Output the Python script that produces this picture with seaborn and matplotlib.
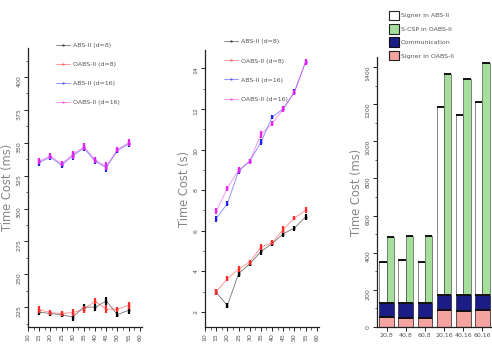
import matplotlib
matplotlib.use("Agg")
import matplotlib.pyplot as plt
import seaborn as sns
import numpy as np
import pandas as pd
from matplotlib.patches import Patch
from matplotlib.ticker import MultipleLocator

# ---------------- data ----------------
x_vals = [15, 20, 25, 30, 35, 40, 45, 50, 55]
x_ticks = [10, 15, 20, 25, 30, 35, 40, 45, 50, 55, 60]

series_names = ["ABS-II (d=8)", "OABS-II (d=8)", "ABS-II (d=16)", "OABS-II (d=16)"]
series_colors = ["#000000", "#ff2a2a", "#2222ee", "#ee22ee"]

# left panel (ms)
ms_abs8 = [221.4, 220.2, 219.4, 217.5, 225.2, 225.0, 229.8, 219.4, 222.7]
ms_oabs8 = [223.2, 221.0, 220.2, 221.0, 223.2, 229.6, 223.5, 223.5, 226.5]
ms_abs16 = [335.0, 339.0, 333.0, 340.0, 346.0, 336.0, 331.0, 344.0, 349.0]
ms_oabs16 = [336.0, 340.0, 334.0, 341.0, 347.0, 337.0, 332.0, 345.0, 350.0]
ms_err = [2.5, 2.0, 2.0, 3.0, 2.5, 2.5, 3.0, 2.0, 2.5]

# middle panel (s)
s_abs8 = [2.97, 2.31, 3.88, 4.37, 4.98, 5.36, 5.85, 6.13, 6.68]
s_oabs8 = [3.00, 3.63, 4.12, 4.45, 5.20, 5.40, 6.06, 6.63, 7.00]
s_abs16 = [6.60, 7.33, 8.93, 9.42, 10.35, 11.60, 12.00, 12.85, 14.30]
s_oabs16 = [6.95, 8.10, 8.98, 9.42, 10.74, 11.28, 12.00, 12.80, 14.33]
s_err = [0.15, 0.12, 0.15, 0.12, 0.15, 0.12, 0.15, 0.12, 0.15]

# right panel (ms)
bar_groups = ["20,8", "40,8", "60,8", "20,16", "40,16", "60,16"]
signer_abs = [350, 362, 350, 1183, 1141, 1214]
signer_oabs = [54, 48, 48, 92, 86, 94]
communication = [76, 82, 82, 80, 88, 80]
scsp_oabs = [357, 358, 360, 1192, 1161, 1248]

# ---------------- figure ----------------
sns.set_style("ticks")
plt.rcParams["font.family"] = ["DejaVu Sans"]
fig = plt.figure(figsize=(4.92, 3.47), dpi=100)

ax1 = fig.add_axes([28/492, 20/347, 114/492, 279/347])
ax2 = fig.add_axes([205/492, 20/347, 114/492, 277/347])
ax3 = fig.add_axes([377/492, 20/347, 115/492, 270/347])

tick_col = "#555555"
lab_col = "#888888"


def style_line_axis(ax):
    for s in ["top", "right"]:
        ax.spines[s].set_visible(False)
    for s in ["left", "bottom"]:
        ax.spines[s].set_linewidth(0.9)
        ax.spines[s].set_color("#222222")
    ax.tick_params(axis="both", which="major", length=3, width=0.7,
                   labelsize=4.5, colors="#222222", labelcolor=tick_col, pad=1.5)
    ax.tick_params(axis="both", which="minor", length=1.8, width=0.5, colors="#222222")
    ax.tick_params(axis="y", labelrotation=90)
    ax.tick_params(axis="x", labelrotation=90)


def draw_lines(ax, ys, err):
    for name, col, y in zip(series_names, series_colors, ys):
        df = pd.DataFrame({"x": x_vals, "y": y})
        sns.lineplot(data=df, x="x", y="y", ax=ax, color=col, lw=0.6, alpha=0.55,
                     marker="o", markersize=1.8, markeredgewidth=0, label=name)
        ax.errorbar(x_vals, y, yerr=err, fmt="none", ecolor=col, elinewidth=1.6,
                    capsize=0)
    ax.set_xlim(10, 61)
    ax.set_xticks(x_ticks)
    ax.xaxis.set_minor_locator(MultipleLocator(2.5))
    ax.set_xlabel("")


# left
draw_lines(ax1, [ms_abs8, ms_oabs8, ms_abs16, ms_oabs16], ms_err)
ax1.set_ylim(210, 422)
ax1.set_yticks([225, 250, 275, 300, 325, 350, 375, 400])
ax1.yaxis.set_minor_locator(MultipleLocator(12.5))
ax1.set_ylabel("Time Cost (ms)", fontsize=8.3, color=lab_col, labelpad=2)
style_line_axis(ax1)
ax1.legend(loc="upper left", bbox_to_anchor=(0.2, 1.04), frameon=False,
           fontsize=4.5, labelspacing=2.2, handlelength=2.2, handletextpad=0.4,
           labelcolor=tick_col)

# middle
draw_lines(ax2, [s_abs8, s_oabs8, s_abs16, s_oabs16], s_err)
ax2.set_ylim(1.26, 14.9)
ax2.set_yticks([2, 4, 6, 8, 10, 12, 14])
ax2.yaxis.set_minor_locator(MultipleLocator(1))
ax2.set_ylabel("Time Cost (s)", fontsize=8.3, color=lab_col, labelpad=2)
style_line_axis(ax2)
ax2.legend(loc="upper left", bbox_to_anchor=(0.12, 1.06), frameon=False,
           fontsize=4.5, labelspacing=2.2, handlelength=2.2, handletextpad=0.4,
           labelcolor=tick_col)

# right: stacked bars
systems = ["ABS-II", "OABS-II"]
tot_oabs = [a + b + c for a, b, c in zip(signer_oabs, communication, scsp_oabs)]
mid_oabs = [a + b for a, b in zip(signer_oabs, communication)]
nan6 = [np.nan] * len(bar_groups)

layers = [
    (signer_abs, tot_oabs, "#ffffff", "#a6df9c"),
    (nan6, mid_oabs, "#ffffff", "#1c1c86"),
    (nan6, signer_oabs, "#ffffff", "#f5a3a0"),
]
for abs_v, oabs_v, c_abs, c_oabs in layers:
    df = pd.DataFrame({
        "group": bar_groups * 2,
        "system": [systems[0]] * len(bar_groups) + [systems[1]] * len(bar_groups),
        "value": list(abs_v) + list(oabs_v),
    }).dropna()
    sns.barplot(data=df, x="group", y="value", hue="system", order=bar_groups,
                hue_order=systems, palette={systems[0]: c_abs, systems[1]: c_oabs},
                ax=ax3, width=0.76, edgecolor="#333333", linewidth=0.4,
                saturation=1, legend=False, errorbar=None)

# dark top edge on every bar segment (Origin style)
for p in ax3.patches:
    h = p.get_height()
    if np.isfinite(h) and h > 0:
        ax3.plot([p.get_x(), p.get_x() + p.get_width()], [h, h],
                 color="#111111", lw=1.4, solid_capstyle="butt")

ax3.set_xlim(-0.5, 5.5)
ax3.set_ylim(0, 1454)
ax3.set_yticks(range(0, 1401, 200))
ax3.yaxis.set_minor_locator(MultipleLocator(100))
ax3.set_xlabel("")
ax3.set_ylabel("Time Cost (ms)", fontsize=8.3, color=lab_col, labelpad=2)
for s in ["top", "right"]:
    ax3.spines[s].set_visible(False)
for s in ["left", "bottom"]:
    ax3.spines[s].set_linewidth(0.9)
    ax3.spines[s].set_color("#222222")
ax3.tick_params(axis="both", which="major", length=3, width=0.7,
                labelsize=4.5, colors="#222222", labelcolor=tick_col, pad=1.5)
ax3.tick_params(axis="both", which="minor", length=1.8, width=0.5, colors="#222222")
ax3.tick_params(axis="y", labelrotation=90)

handles = [
    Patch(facecolor="#ffffff", edgecolor="#222222", linewidth=0.8, label="Signer in ABS-II"),
    Patch(facecolor="#a6df9c", edgecolor="#222222", linewidth=0.8, label="S-CSP in OABS-II"),
    Patch(facecolor="#1c1c86", edgecolor="#111111", linewidth=0.8, label="Communication"),
    Patch(facecolor="#f5a3a0", edgecolor="#222222", linewidth=0.8, label="Signer in OABS-II"),
]
fig.legend(handles=handles, loc="upper left", bbox_to_anchor=(386/492, 1 - 8/347),
           frameon=False, fontsize=4.5, labelspacing=0.6, handlelength=1.6,
           handleheight=2.0, handletextpad=0.4, labelcolor=tick_col, borderaxespad=0)

fig.savefig("out.png", dpi=100)
